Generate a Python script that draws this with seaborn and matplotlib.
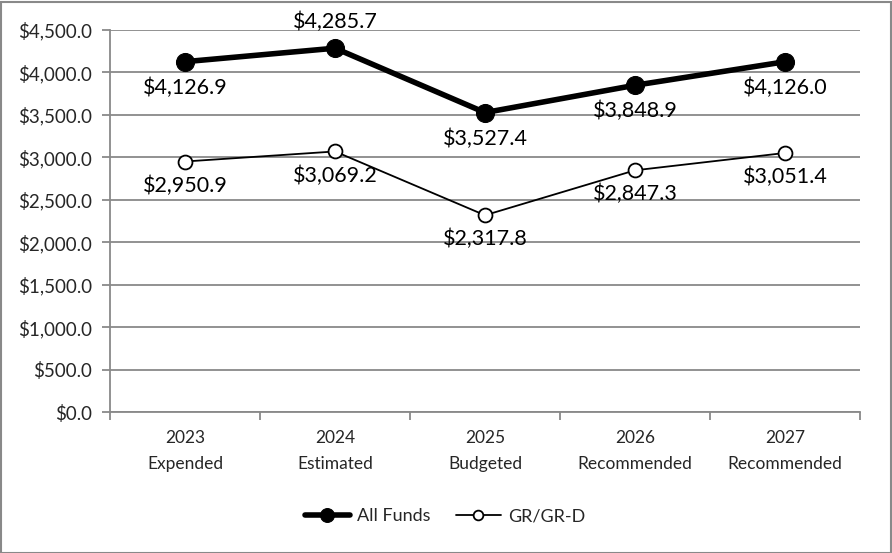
import matplotlib
matplotlib.use("Agg")
import matplotlib.pyplot as plt
import seaborn as sns
import pandas as pd
from matplotlib.ticker import FuncFormatter

categories = ["2023\nExpended", "2024\nEstimated", "2025\nBudgeted", "2026\nRecommended", "2027\nRecommended"]
all_funds = [4126.9, 4285.7, 3527.4, 3848.9, 4126.0]
gr_grd = [2950.9, 3069.2, 2317.8, 2847.3, 3051.4]
all_funds_label_pos = ["below", "above", "below", "below", "below"]
gr_label_pos = ["below", "below", "below", "below", "below"]

sns.set_theme(style="white")
plt.rcParams['font.family'] = ['Lato', 'DejaVu Sans']

fig = plt.figure(figsize=(8.92, 5.53), dpi=100)
ax = fig.add_axes([110/892, 1-412/553, 750/892, 382/553])

x = list(range(len(categories)))
df = pd.DataFrame({"x": x * 2,
                   "value": all_funds + gr_grd,
                   "series": ["All Funds"] * 5 + ["GR/GR-D"] * 5})

sns.lineplot(data=df[df.series == "All Funds"], x="x", y="value", ax=ax, color="black",
             linewidth=4, marker="o", markersize=13, markerfacecolor="black",
             markeredgecolor="black", label="All Funds")
sns.lineplot(data=df[df.series == "GR/GR-D"], x="x", y="value", ax=ax, color="black",
             linewidth=1.3, marker="o", markersize=10, markerfacecolor="white",
             markeredgecolor="black", markeredgewidth=1.3, label="GR/GR-D")

for xi, v, p in zip(x, all_funds, all_funds_label_pos):
    off = 26 if p == "above" else -26
    ax.annotate(f"${v:,.1f}", (xi, v), xytext=(0, off), textcoords="offset pixels",
                ha="center", va="center", fontsize=15.5, color="black")
for xi, v, p in zip(x, gr_grd, gr_label_pos):
    off = 24 if p == "above" else -24
    ax.annotate(f"${v:,.1f}", (xi, v), xytext=(0, off), textcoords="offset pixels",
                ha="center", va="center", fontsize=15.5, color="black")

ax.set_xlim(-0.5, 4.5)
ax.set_ylim(0, 4500)
ax.set_yticks(range(0, 4501, 500))
ax.yaxis.set_major_formatter(FuncFormatter(lambda v, p: f"${v:,.1f}"))
ax.set_xticks(x)
ax.set_xticklabels(categories, linespacing=1.75)
ax.set_xticks([i - 0.5 for i in range(6)], minor=True)
ax.tick_params(axis="x", which="major", length=0, pad=13, labelsize=12.5)
ax.tick_params(axis="x", which="minor", length=6, width=1.3, color="#898989", bottom=True)
ax.tick_params(axis="y", which="major", length=6, width=1.3, color="#898989", left=True, labelsize=13.5, pad=7)
ax.set_xlabel("")
ax.set_ylabel("")
ax.grid(axis="y", color="#898989", linewidth=1.3)
ax.set_axisbelow(True)
for s in ["top", "right"]:
    ax.spines[s].set_visible(False)
for s in ["left", "bottom"]:
    ax.spines[s].set_color("#898989")
    ax.spines[s].set_linewidth(1.3)

leg = ax.legend(loc="center", bbox_to_anchor=(445/892, 1 - 516/553), bbox_transform=fig.transFigure,
                ncol=2, frameon=False, fontsize=13, handlelength=2.5, columnspacing=1.4, handletextpad=0.4)
for h, ms in zip(leg.legend_handles, [10, 7]):
    h.set_markersize(ms)

border = plt.Rectangle((0.5/892, 0.5/553), 1 - 2/892, 1 - 2/553, transform=fig.transFigure,
                       fill=False, edgecolor="#898989", linewidth=1.5)
fig.patches.append(border)

fig.savefig("out.png", dpi=100)
